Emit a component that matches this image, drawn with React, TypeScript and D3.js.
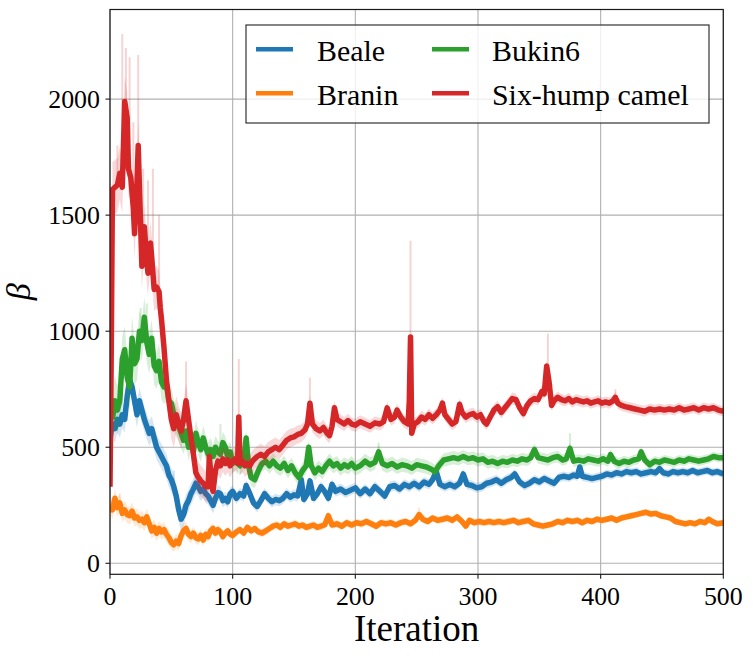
import React from "react";
import * as d3 from "d3";

type P = [number, number];

const xTicks = [0, 100, 200, 300, 400, 500];
const yTicks = [0, 500, 1000, 1500, 2000];
const seriesNames = ["Beale", "Branin", "Bukin6", "Six-hump camel"];
const seriesColors = ["#1f77b4", "#ff7f0e", "#2ca02c", "#d62728"];

const beale: P[] = [[0,540],[2,600],[4,580],[6,620],[8,600],[10,640],[12,620],[14,720],[16,790],[18,760],[20,700],[22,640],[24,700],[26,660],[28,620],[30,590],[32,560],[34,580],[36,540],[38,500],[40,480],[42,460],[44,440],[46,420],[48,380],[50,360],[52,330],[54,290],[56,230],[58,190],[60,210],[62,250],[64,270],[66,300],[68,320],[70,345],[72,330],[74,310],[76,320],[78,300],[80,290],[82,270],[84,250],[86,280],[88,305],[90,300],[92,270],[94,280],[96,265],[98,300],[100,310],[103,280],[106,300],[109,290],[111,335],[114,300],[117,260],[120,245],[123,270],[126,300],[129,280],[132,265],[135,275],[138,270],[141,280],[144,300],[147,285],[150,295],[153,290],[156,360],[158,275],[161,300],[163,355],[166,280],[169,300],[172,330],[175,310],[178,280],[181,340],[184,310],[188,320],[192,305],[196,315],[200,325],[204,300],[208,320],[212,300],[216,330],[220,310],[224,290],[228,330],[232,335],[236,320],[240,340],[244,330],[248,345],[252,330],[256,350],[260,340],[263,360],[266,395],[269,340],[273,330],[277,340],[281,330],[285,345],[288,385],[291,340],[295,335],[299,325],[303,330],[307,345],[311,350],[315,360],[319,345],[323,360],[327,370],[330,385],[334,350],[338,335],[342,345],[346,360],[350,350],[354,365],[358,355],[362,345],[366,370],[370,375],[374,370],[378,380],[381,375],[383,415],[385,375],[389,370],[393,365],[397,370],[401,375],[405,385],[409,380],[413,390],[417,385],[421,395],[425,390],[429,395],[433,385],[437,390],[441,395],[445,390],[448,408],[451,390],[455,385],[459,395],[463,390],[467,395],[471,390],[475,400],[479,390],[483,395],[487,400],[491,390],[495,395],[500,385]];

const branin: P[] = [[0,250],[2,230],[4,280],[6,240],[8,260],[10,215],[12,230],[14,210],[16,205],[18,225],[20,195],[22,200],[24,185],[26,190],[28,175],[30,200],[32,170],[34,140],[36,155],[38,130],[40,150],[42,135],[44,145],[46,125],[48,110],[50,90],[52,80],[54,95],[56,85],[58,120],[60,140],[62,150],[64,125],[66,115],[68,130],[70,110],[72,105],[74,120],[76,100],[78,125],[80,115],[82,140],[84,150],[86,130],[88,145],[90,135],[92,115],[94,130],[96,140],[98,125],[100,120],[103,135],[106,145],[109,130],[112,155],[115,140],[118,150],[121,135],[124,130],[127,140],[130,150],[133,160],[136,165],[139,155],[142,170],[145,160],[148,165],[151,170],[154,160],[157,165],[160,155],[163,160],[166,165],[169,155],[172,160],[175,165],[178,205],[181,165],[185,170],[189,160],[193,175],[197,165],[201,175],[205,170],[209,180],[213,170],[217,160],[221,175],[225,170],[229,175],[233,165],[237,175],[241,180],[245,170],[249,185],[252,210],[255,190],[259,180],[263,195],[267,185],[271,190],[275,195],[279,185],[283,200],[287,180],[290,160],[293,185],[297,175],[301,180],[305,175],[309,180],[313,175],[317,180],[321,175],[325,180],[329,185],[333,175],[337,180],[341,185],[345,170],[349,165],[353,160],[357,165],[361,170],[365,180],[369,175],[373,185],[377,180],[381,185],[385,175],[389,185],[393,180],[397,190],[401,185],[405,190],[409,195],[413,185],[417,195],[421,200],[425,205],[429,210],[433,215],[437,220],[441,212],[445,215],[449,205],[453,200],[457,195],[461,180],[465,175],[469,170],[473,175],[477,170],[481,180],[485,175],[488,190],[491,180],[495,170],[500,175]];

const bukin6: P[] = [[2,620],[4,700],[6,660],[8,700],[10,880],[12,920],[14,800],[16,760],[18,970],[20,860],[22,880],[24,1000],[26,960],[28,1060],[30,950],[32,900],[34,970],[36,850],[38,830],[40,870],[42,780],[44,760],[46,770],[48,700],[50,690],[52,640],[54,610],[56,590],[58,560],[60,530],[62,570],[64,500],[66,540],[68,480],[70,560],[72,520],[74,490],[76,540],[78,500],[80,470],[82,490],[84,460],[86,500],[88,480],[90,470],[92,520],[94,500],[96,460],[98,480],[100,430],[103,445],[106,420],[109,440],[111,540],[113,420],[115,370],[118,360],[121,400],[124,430],[127,440],[130,420],[133,440],[136,420],[139,410],[142,430],[145,400],[148,420],[151,390],[154,370],[157,400],[160,420],[162,500],[164,420],[167,390],[170,410],[173,395],[176,420],[179,440],[182,420],[185,430],[188,410],[191,425],[194,415],[197,430],[200,410],[204,420],[208,440],[212,425],[216,435],[219,480],[222,430],[226,420],[230,430],[234,415],[238,425],[242,420],[246,410],[250,425],[254,420],[258,415],[262,405],[265,395],[268,420],[272,445],[276,450],[280,455],[284,450],[288,460],[292,450],[296,455],[300,445],[304,450],[308,435],[312,440],[316,430],[320,440],[324,435],[328,445],[332,440],[336,450],[340,445],[343,455],[346,490],[349,455],[353,450],[357,445],[361,455],[365,460],[369,445],[372,450],[375,495],[378,440],[382,445],[386,440],[390,450],[394,445],[398,440],[402,450],[406,440],[408,468],[411,440],[415,430],[419,440],[423,435],[427,445],[431,450],[433,480],[436,445],[440,425],[444,440],[448,435],[452,445],[456,440],[460,435],[464,445],[468,440],[472,450],[476,445],[480,440],[484,445],[488,450],[492,460],[496,455],[500,455]];

const camel: P[] = [[0,330],[1,900],[2,1610],[4,1620],[6,1630],[8,1680],[10,1620],[12,1990],[14,1920],[15,1700],[17,1660],[19,1530],[20,1420],[22,1640],[23,1800],[24,1620],[26,1280],[28,1450],[30,1300],[31,1250],[33,1380],[34,1320],[36,1180],[38,1190],[40,1170],[41,1100],[42,1050],[44,930],[46,790],[48,700],[50,620],[52,580],[54,640],[56,600],[58,570],[60,620],[62,700],[64,620],[66,540],[68,470],[70,390],[72,370],[74,355],[76,345],[78,330],[80,330],[81,460],[83,330],[84,310],[86,400],[88,440],[90,420],[92,450],[94,430],[96,445],[98,420],[100,440],[102,450],[104,430],[105,630],[106,430],[108,440],[110,420],[112,430],[114,420],[116,440],[118,450],[120,460],[123,470],[126,460],[129,480],[132,490],[135,500],[138,490],[141,510],[144,530],[147,540],[150,545],[153,555],[156,560],[159,575],[161,600],[163,690],[165,600],[168,580],[171,570],[174,585],[177,560],[179,550],[181,590],[183,670],[185,620],[188,610],[191,600],[194,615],[197,600],[200,595],[204,610],[208,600],[212,590],[216,605],[220,600],[223,610],[226,670],[229,620],[232,630],[234,660],[237,630],[240,610],[243,600],[244,700],[245,975],[246,560],[248,600],[251,610],[254,630],[257,620],[260,640],[263,625],[266,640],[269,660],[271,690],[273,640],[276,620],[279,600],[282,610],[285,685],[287,650],[290,630],[293,640],[296,645],[299,630],[302,640],[305,610],[307,600],[310,630],[313,660],[316,675],[319,650],[322,670],[325,690],[328,710],[331,705],[334,670],[337,645],[340,680],[343,700],[346,710],[349,705],[352,740],[354,730],[356,850],[358,780],[360,680],[362,700],[365,715],[368,705],[371,700],[374,710],[377,695],[380,705],[383,700],[386,695],[389,700],[392,690],[395,695],[398,700],[401,690],[404,695],[407,690],[410,700],[412,715],[414,690],[417,680],[420,675],[424,670],[428,665],[432,660],[436,655],[440,665],[444,660],[448,665],[452,660],[456,665],[460,660],[464,670],[468,660],[472,665],[476,670],[480,660],[484,670],[488,665],[492,670],[496,660],[500,655]];

// half-width of the shaded band (iteration, spread)
const bealeSpread: P[] = [[0,60],[60,50],[100,25],[500,18]];
const braninSpread: P[] = [[0,40],[60,30],[100,18],[500,14]];
const bukin6Spread: P[] = [[0,110],[60,60],[120,35],[500,20]];
const camelSpread: P[] = [[0,120],[40,90],[100,50],[200,28],[500,22]];

// thin light excursions of the band (iteration, top value)
const bealeSpikes: P[] = [[15,860],[52,400],[266,420]];
const braninSpikes: P[] = [[8,300],[252,240]];
const bukin6Spikes: P[] = [[25,1100],[30,1120],[90,600],[219,520],[375,560]];
const camelSpikes: P[] = [[6,1800],[10,2280],[13,2220],[16,2180],[19,1900],[23,2190],[27,1700],[31,1650],[35,1700],[40,1500],[62,870],[105,880],[163,800],[245,1390],[357,990],[412,750]];

const seriesData = [beale, branin, bukin6, camel];
const seriesSpread = [bealeSpread, braninSpread, bukin6Spread, camelSpread];
const seriesSpikes = [bealeSpikes, braninSpikes, bukin6Spikes, camelSpikes];

const W = 753;
const H = 658;
const L = 110, R = 723.3, T = 9.5, B = 574.3;
const fontTick = { font: "normal 400 25.9px 'Liberation Serif', serif" } as React.CSSProperties;
const fontLegend = { font: "normal 400 29.9px 'Liberation Serif', serif" } as React.CSSProperties;
const fontLabel = { font: "37px 'Liberation Serif'" } as React.CSSProperties;
const fontBeta = { font: "italic 34px 'Liberation Serif'" } as React.CSSProperties;

export default function App() {
  const x = d3.scaleLinear().domain([0, 500]).range([L, R]);
  const y = d3.scaleLinear().domain([-47.4, 2386]).range([B, T]);

  const line = d3.line<P>().x((d) => x(d[0])).y((d) => y(d[1]));

  return (
    <svg width={W} height={H} style={{ position: "absolute", left: 0, top: 0, background: "#fff" }}>
      <defs>
        <clipPath id="plotclip">
          <rect x={L} y={T} width={R - L} height={B - T} />
        </clipPath>
      </defs>
      <rect x={0} y={0} width={W} height={H} fill="#fff" />
      {xTicks.map((t) => (
        <line key={"gx" + t} x1={x(t)} x2={x(t)} y1={T} y2={B} stroke="#b0b0b0" strokeWidth={1.1} />
      ))}
      {yTicks.map((t) => (
        <line key={"gy" + t} x1={L} x2={R} y1={y(t)} y2={y(t)} stroke="#b0b0b0" strokeWidth={1.1} />
      ))}
      <g clipPath="url(#plotclip)">
        {seriesData.map((data, k) => {
          const sp = d3.scaleLinear().domain(seriesSpread[k].map((d) => d[0])).range(seriesSpread[k].map((d) => d[1])).clamp(true);
          const area = d3
            .area<P>()
            .x((d) => x(d[0]))
            .y0((d) => y(d[1] - sp(d[0])))
            .y1((d) => y(d[1] + sp(d[0])));
          const meanAt = d3.scaleLinear().domain(data.map((d) => d[0])).range(data.map((d) => d[1]));
          return (
            <g key={"s" + k}>
              <path d={area(data) || ""} fill={seriesColors[k]} fillOpacity={0.18} stroke="none" />
              {seriesSpikes[k].map((s, j) => (
                <line
                  key={j}
                  x1={x(s[0])}
                  x2={x(s[0])}
                  y1={y(meanAt(s[0]))}
                  y2={y(s[1])}
                  stroke={seriesColors[k]}
                  strokeOpacity={0.2}
                  strokeWidth={2}
                />
              ))}
              <path
                d={line(data) || ""}
                fill="none"
                stroke={seriesColors[k]}
                strokeWidth={5.5}
                strokeLinejoin="round"
                strokeLinecap="butt"
              />
            </g>
          );
        })}
      </g>
      <rect x={L} y={T} width={R - L} height={B - T} fill="none" stroke="#1a1a1a" strokeWidth={1.2} />
      {xTicks.map((t) => (
        <g key={"tx" + t}>
          <line x1={x(t)} x2={x(t)} y1={B} y2={B + 4.5} stroke="#1a1a1a" strokeWidth={1.1} />
          <text x={x(t)} y={605} textAnchor="middle" style={fontTick}>
            {String(t)}
          </text>
        </g>
      ))}
      {yTicks.map((t) => (
        <g key={"ty" + t}>
          <line x1={L - 4.5} x2={L} y1={y(t)} y2={y(t)} stroke="#1a1a1a" strokeWidth={1.1} />
          <text x={100} y={y(t) + 8.8} textAnchor="end" style={fontTick}>
            {String(t)}
          </text>
        </g>
      ))}
      <text x={(L + R) / 2} y={641} textAnchor="middle" style={fontLabel}>
        Iteration
      </text>
      <text transform={`translate(30, ${(T + B) / 2}) rotate(-90)`} textAnchor="middle" style={fontBeta}>
        β
      </text>
      <rect x={246} y={25} width={463} height={98} fill="#fff" fillOpacity={0.8} stroke="#333" strokeWidth={1.2} />
      {seriesNames.map((name, k) => {
        const col = Math.floor(k / 2);
        const row = k % 2;
        const hx = col === 0 ? 256 : 432;
        const tx = col === 0 ? 317 : 492;
        const ly = row === 0 ? 49.3 : 93.3;
        return (
          <g key={"lg" + k}>
            <line x1={hx} x2={hx + 37} y1={ly} y2={ly} stroke={seriesColors[k]} strokeWidth={4.5} />
            <text x={tx} y={ly + 11.4} style={fontLegend}>
              {name}
            </text>
          </g>
        );
      })}
    </svg>
  );
}
